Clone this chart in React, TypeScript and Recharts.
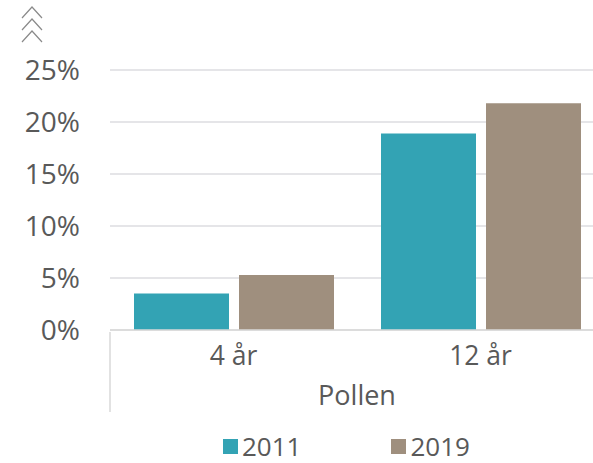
import { BarChart, Bar, XAxis, YAxis, CartesianGrid, Legend } from 'recharts'

const categories = ['4 år', '12 år']
const values2011 = [3.5, 18.9]
const values2019 = [5.3, 21.8]
const yTicks = [0, 5, 10, 15, 20, 25]
const groupLabel = 'Pollen'

const data = categories.map((name, i) => ({
  name,
  y2011: values2011[i],
  y2019: values2019[i],
}))

const TEAL = '#33a3b4'
const TAUPE = '#9f8f7e'
const TEXT = '#595959'
const FONT = '"Open Sans", "DejaVu Sans", sans-serif'

// plot is 494px wide, two categories
const BAND = 247

function CategoryTick(props: any) {
  const { x, y, payload, index } = props
  return (
    <g>
      {index === 0 && (
        <line x1={x - BAND / 2} x2={x - BAND / 2} y1={y} y2={y + 80} stroke="#d9d9d9" strokeWidth={1.5} />
      )}
      <text x={x} y={y + 33} textAnchor="middle" fill={TEXT} fontSize={26.5} fontFamily={FONT}>
        {payload.value}
      </text>
    </g>
  )
}

function LegendContent() {
  const items = [
    { label: '2011', color: TEAL },
    { label: '2019', color: TAUPE },
  ]
  return (
    <div style={{ display: 'flex', gap: 90, height: 26, alignItems: 'center', fontFamily: FONT }}>
      {items.map((it) => (
        <div key={it.label} style={{ display: 'flex', alignItems: 'center' }}>
          <span style={{ display: 'inline-block', width: 15, height: 15, background: it.color, marginRight: 4 }} />
          <span style={{ color: TEXT, fontSize: 26, lineHeight: '26px' }}>{it.label}</span>
        </div>
      ))}
    </div>
  )
}

export default function App() {
  return (
    <div style={{ position: 'absolute', left: 0, top: 0, width: 593, height: 463, overflow: 'hidden', background: '#fff' }}>
      <svg width={60} height={50} style={{ position: 'absolute', left: 0, top: 0 }}>
        {[7, 19, 31].map((t) => (
          <polyline key={t} points={`22,${t + 11} 32,${t} 42,${t + 11}`} fill="none" stroke="#8a8a8a" strokeWidth={1.2} />
        ))}
      </svg>
      <BarChart
        width={604}
        height={463}
        data={data}
        margin={{ top: 70, right: 0, left: 10, bottom: 4 }}
        barCategoryGap={24}
        barGap={10}
      >
        <CartesianGrid vertical={false} stroke="#dcdce0" strokeWidth={1.5} />
        <XAxis
          dataKey="name"
          height={103}
          axisLine={{ stroke: '#d9d9d9', strokeWidth: 1.5 }}
          tickLine={false}
          tickSize={0}
          tick={<CategoryTick />}
          interval={0}
          label={{ value: groupLabel, position: 'insideBottom', offset: 28, fill: TEXT, fontSize: 27, fontFamily: FONT }}
        />
        <YAxis
          width={100}
          domain={[0, 25]}
          ticks={yTicks}
          tickFormatter={(v: number) => `${v}%`}
          axisLine={false}
          tickLine={false}
          tickSize={0}
          tickMargin={30}
          tick={{ fill: TEXT, fontSize: 28, fontFamily: FONT }}
        />
        <Legend verticalAlign="bottom" content={<LegendContent />} wrapperStyle={{ left: 223, width: 'auto' }} />
        <Bar dataKey="y2011" name="2011" fill={TEAL} isAnimationActive={false} />
        <Bar dataKey="y2019" name="2019" fill={TAUPE} isAnimationActive={false} />
      </BarChart>
    </div>
  )
}
